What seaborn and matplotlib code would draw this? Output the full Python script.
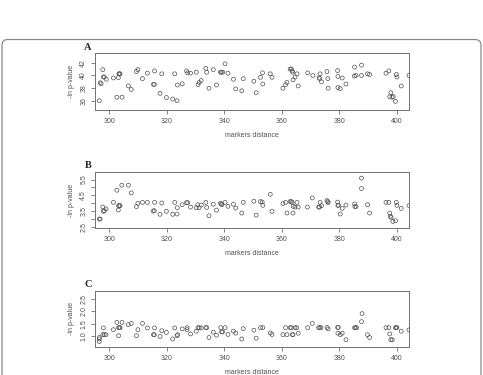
import numpy as np
import pandas as pd
import matplotlib
matplotlib.use("Agg")
import matplotlib.pyplot as plt
from matplotlib.patches import FancyBboxPatch
import seaborn as sns

# Panel A: -ln p-value vs markers distance
xa = [296.6, 296.9, 297.2, 297.8, 298.0, 298.3, 299.0, 301.5, 302.7, 303.2, 303.4, 303.6, 303.8,
      304.5, 306.7, 307.7, 309.5, 310.0, 311.6, 313.3, 315.4, 315.7, 315.8, 317.7, 318.3, 319.9,
      322.1, 322.8, 323.6, 323.7, 325.4, 326.9, 327.3, 328.3, 330.3, 330.9, 331.3, 332.0, 333.6,
      333.9, 334.7, 336.2, 337.3, 338.7, 339.0, 339.5, 340.3, 341.3, 343.2, 344.0, 346.1, 346.6,
      350.3, 351.1, 352.6, 353.3, 353.4, 356.0, 356.6, 360.4, 361.3, 361.8, 362.9, 363.3, 363.6,
      363.8, 363.9, 364.6, 365.3, 365.7, 369.0, 370.8, 373.0, 373.2, 373.3, 373.8, 375.7, 376.0,
      376.1, 379.4, 379.5, 379.5, 380.3, 381.0, 382.3, 385.2, 385.3, 385.8, 387.7, 387.7, 389.8,
      390.5, 396.2, 397.2, 397.5, 397.9, 398.3, 398.7, 399.5, 399.8, 400.0, 401.5, 404.2]
ya = [36.05, 38.85, 38.7, 40.9, 39.75, 39.75, 39.4, 39.6, 36.6, 39.65, 40.25, 40.25, 40.25,
      36.6, 38.35, 37.8, 40.6, 40.9, 39.5, 40.35, 38.6, 38.6, 40.7, 37.2, 40.25, 36.55,
      36.3, 40.25, 36.05, 38.5, 38.7, 40.7, 40.4, 40.35, 40.5, 38.55, 38.9, 39.2, 41.1,
      40.5, 38.0, 40.9, 38.5, 40.5, 40.5, 40.5, 41.8, 40.35, 39.4, 37.9, 37.6, 39.5,
      39.1, 37.3, 39.7, 40.4, 38.65, 40.25, 39.7, 38.0, 38.55, 38.9, 41.0, 41.0, 40.7,
      40.5, 39.3, 39.75, 40.25, 38.35, 40.4, 40.0, 39.6, 39.5, 40.25, 39.0, 40.6, 39.5,
      38.0, 40.75, 39.85, 38.1, 37.95, 39.6, 38.65, 39.9, 41.3, 40.0, 41.6, 40.0, 40.25,
      40.15, 40.35, 40.7, 36.65, 37.3, 36.6, 36.7, 35.95, 40.15, 39.75, 38.35, 40.0]

# Panel B
xb = [296.6, 296.9, 297.8, 298.0, 298.3, 298.9, 301.5, 302.7, 303.2, 303.3, 303.6, 303.8, 304.4,
      306.7, 307.7, 309.5, 310.0, 311.6, 313.3, 315.3, 315.7, 315.8, 317.7, 318.3, 319.9, 322.1,
      322.8, 323.6, 323.7, 325.4, 326.9, 327.3, 328.3, 330.3, 330.8, 331.3, 332.0, 333.6, 333.9,
      334.7, 336.2, 337.3, 338.7, 339.0, 339.2, 340.3, 341.3, 343.2, 344.0, 346.1, 346.6, 350.3,
      351.1, 352.6, 353.2, 353.4, 356.0, 356.6, 360.4, 361.3, 361.8, 362.9, 363.3, 363.6, 363.9,
      364.0, 364.6, 365.3, 365.7, 368.9, 370.6, 372.8, 373.1, 373.3, 373.8, 375.7, 376.0, 376.1,
      379.4, 379.5, 379.7, 380.3, 381.0, 382.3, 385.3, 385.4, 385.8, 387.7, 387.7, 389.8, 390.5,
      396.2, 397.2, 397.5, 397.7, 398.0, 398.6, 399.5, 399.8, 400.0, 401.5, 404.2]
yb = [2.99, 2.99, 3.75, 3.48, 3.52, 3.63, 4.05, 4.82, 3.56, 3.84, 3.84, 3.84, 5.14,
      5.14, 4.65, 3.78, 3.99, 4.05, 4.05, 3.5, 3.52, 4.05, 3.29, 4.01, 3.48, 3.29,
      4.05, 3.31, 3.71, 3.9, 4.03, 4.03, 3.75, 3.71, 3.9, 3.71, 3.88, 4.05, 3.73,
      3.2, 3.93, 3.56, 3.99, 3.95, 3.9, 4.05, 3.8, 3.93, 3.69, 3.37, 4.05, 4.12,
      3.24, 4.1, 4.07, 3.86, 4.56, 3.48, 3.97, 4.05, 3.37, 4.1, 4.1, 4.05, 3.37,
      3.8, 3.75, 4.05, 3.75, 3.75, 4.33, 3.75, 3.75, 4.05, 3.84, 4.16, 4.1, 4.03,
      4.07, 3.86, 3.86, 3.31, 3.67, 3.88, 3.95, 3.78, 3.78, 4.93, 5.59, 3.9, 3.37,
      4.05, 4.05, 3.37, 3.16, 3.1, 2.84, 2.88, 4.05, 3.86, 3.67, 3.84]

# Panel C
xc = [296.6, 296.6, 296.6, 297.8, 298.0, 298.3, 298.9, 301.5, 302.7, 303.3, 303.3, 303.6, 303.8,
      304.5, 306.7, 307.7, 309.5, 310.0, 311.6, 313.3, 315.4, 315.7, 315.8, 317.7, 318.3, 319.9,
      322.1, 322.8, 323.6, 323.8, 325.4, 327.1, 327.1, 328.3, 330.3, 330.9, 331.3, 332.0, 333.6,
      333.9, 334.7, 336.2, 337.3, 338.8, 339.1, 339.4, 340.3, 341.3, 343.2, 344.0, 346.1, 346.6,
      350.3, 351.1, 352.6, 353.4, 356.0, 356.6, 360.4, 361.3, 361.8, 362.9, 363.3, 363.7, 363.9,
      364.6, 365.2, 365.7, 369.0, 370.6, 372.8, 373.2, 373.6, 375.7, 376.1, 379.4, 379.5, 379.6,
      380.3, 381.0, 382.3, 385.3, 385.6, 386.0, 387.7, 387.9, 389.8, 390.5, 396.2, 397.2, 397.5,
      397.9, 398.4, 399.5, 399.8, 400.0, 401.5, 404.2]
yc = [0.96, 0.9, 0.8, 1.07, 1.34, 1.07, 1.07, 1.27, 1.56, 1.35, 1.03, 1.35, 1.35,
      1.56, 1.47, 1.52, 1.03, 1.27, 1.52, 1.34, 1.07, 1.07, 1.34, 1.0, 1.23, 1.16,
      0.9, 1.34, 1.03, 1.07, 1.3, 1.35, 1.27, 1.1, 1.21, 1.35, 1.35, 1.34, 1.35,
      1.35, 0.96, 1.17, 1.05, 1.35, 1.18, 1.18, 1.35, 1.08, 1.21, 1.13, 0.9, 1.31,
      1.25, 0.93, 1.35, 1.35, 1.14, 1.08, 1.07, 1.35, 1.07, 1.35, 1.35, 1.07, 1.07,
      1.35, 1.35, 1.13, 1.35, 1.52, 1.35, 1.35, 1.35, 1.36, 1.3, 1.36, 1.13, 1.36,
      1.07, 1.13, 0.87, 1.35, 1.35, 1.35, 1.59, 1.91, 1.07, 0.96, 1.35, 1.35, 1.1,
      0.87, 0.87, 1.35, 1.35, 1.35, 1.21, 1.26]

panels = [
    ("A", xa, ya, (34.6, 43.5), [36, 38, 40, 42], ["36", "38", "40", "42"]),
    ("B", xb, yb, (2.42, 5.98), [2.5, 3.0, 3.5, 4.0, 4.5, 5.0, 5.5],
     ["2.5", "", "3.5", "", "4.5", "", "5.5"]),
    ("C", xc, yc, (0.58, 2.83), [1.0, 1.5, 2.0, 2.5], ["1.0", "1.5", "2.0", "2.5"]),
]
xticks = [300, 320, 340, 360, 380, 400]

sns.set_theme(style="white")
plt.rcParams["font.family"] = ["Liberation Sans", "DejaVu Sans"]

W, H = 483, 375
fig = plt.figure(figsize=(W / 100, H / 100), dpi=100)

# rounded border around the figure content
border = FancyBboxPatch((2 / W, -0.05), (479 / W), (1 - 39.5 / H) + 0.05,
                        boxstyle="round,pad=0,rounding_size=0.012",
                        mutation_aspect=W / H,
                        transform=fig.transFigure, fill=False,
                        edgecolor="#888888", linewidth=0.9)
fig.patches.append(border)

# axes boxes in pixels: (top, bottom)
boxes = [(53, 110), (172, 228), (290.5, 347)]
left, right = 95, 409

for (letter, xs, ys, ylim, yt, ytl), (top, bot) in zip(panels, boxes):
    ax = fig.add_axes([left / W, 1 - bot / H, (right - left) / W, (bot - top) / H])
    df = pd.DataFrame({"dist": xs, "val": ys})
    sns.scatterplot(data=df, x="dist", y="val", ax=ax, marker="o",
                    facecolor="none", edgecolor="#505050", linewidth=0.5, s=8)
    ax.set_xlim(295.1, 404.2)
    ax.set_ylim(*ylim)
    ax.set_xticks(xticks)
    ax.set_xticklabels([str(t) for t in xticks], fontsize=5, color="#505050")
    ax.set_yticks(yt)
    ax.set_yticklabels(ytl, fontsize=5, color="#505050", rotation=90, va="center")
    ax.tick_params(axis="both", direction="out", length=3, width=0.5,
                   color="#505050", pad=2.5, bottom=True, left=True)
    for sp in ax.spines.values():
        sp.set_visible(True)
        sp.set_color("#707070")
        sp.set_linewidth(0.7)
    ax.set_xlabel("markers distance", fontsize=5, color="#505050", labelpad=5)
    ax.set_ylabel("-ln p-value", fontsize=5, color="#505050", labelpad=4)
    fig.text(88 / W, 1 - (top - 6) / H, letter, fontsize=7.5, fontweight="bold",
             family="Liberation Serif", ha="center", va="center")

fig.savefig("out.png", dpi=100)
